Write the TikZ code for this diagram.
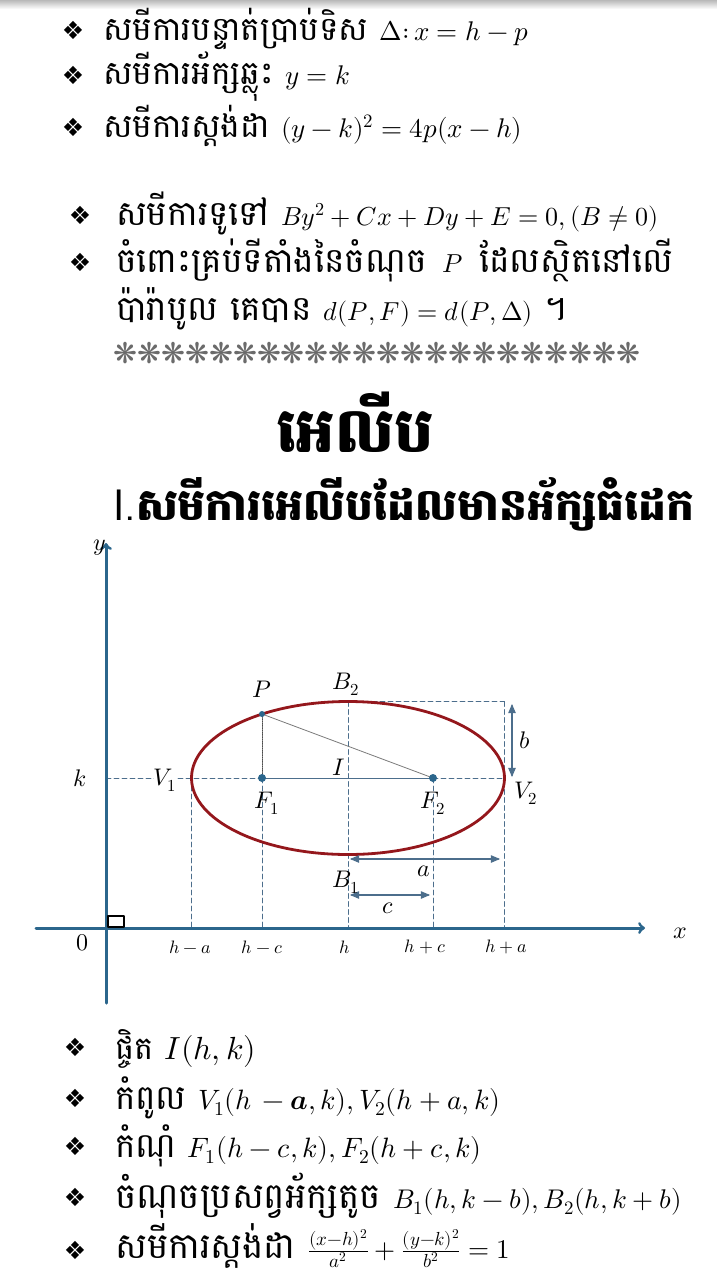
\documentclass[tikz,border=0pt]{standalone}
\usepackage{fontspec}
\usepackage{unicode-math}
\usetikzlibrary{arrows}
\newfontfamily\khmer[Script=Khmer,Scale=1.22]{Battambang}
\newfontfamily\khmerlg[Script=Khmer,Scale=1.32]{Battambang}
\newfontfamily\khmerhd[Script=Khmer]{Battambang}
\newfontfamily\dingbat{DejaVu Sans}
\definecolor{qqwwcc}{rgb}{0.17,0.40,0.55}
\definecolor{ttqqqq}{rgb}{0.58,0.09,0.11}
\definecolor{wwzzcc}{rgb}{0.30,0.43,0.55}
\definecolor{sqsqsq}{rgb}{0.48,0.48,0.48}
\definecolor{zzzzzz}{rgb}{0.42,0.42,0.42}
\tikzset{
  txt/.style={anchor=base west,inner sep=0pt,font=\fontsize{27}{32}\selectfont\khmer},
  txtlg/.style={anchor=base west,inner sep=0pt,font=\fontsize{26}{32}\selectfont\khmerlg},
  txtlo/.style={anchor=base west,inner sep=0pt,font=\fontsize{27}{32}\selectfont\khmerlg},
  bul/.style={inner sep=0pt,font=\fontsize{25}{30}\selectfont\dingbat},
  lbl/.style={inner sep=1pt,font=\fontsize{24}{28}\selectfont},
  tick/.style={inner sep=1pt,font=\fontsize{18}{22}\selectfont},
  guide/.style={wwzzcc,line width=0.9pt,dash pattern=on 5pt off 3pt},
}
\begin{document}
\begin{tikzpicture}[line cap=round,line join=round,>=triangle 45,x=1.0pt,y=-1.0pt]
	\useasboundingbox (0,0) rectangle (717,1280);
	\shade[top color=gray!55,bottom color=white] (0,0) rectangle (717,9);
	% top list
	\node[bul] (b1) at (73,30) {❖};
	\node[txt] (t1) at (103,40) {សមីការបន្ទាត់ប្រាប់ទិស $\Delta{:}\,x=h-p$};
	\node[bul] (b2) at (73,75) {❖};
	\node[txt] (t2) at (103,84) {សមីការអ័ក្សឆ្លុះ $y=k$};
	\node[bul] (b3) at (73,127) {❖};
	\node[txt] (t3) at (103,137) {សមីការស្តង់ដា $(y-k)^2=4p(x-h)$};
	\node[bul] (b4) at (80,215) {❖};
	\node[txtlg] (t4) at (116,225) {សមីការទូទៅ $By^2+Cx+Dy+E=0,(B\neq 0)$};
	\node[bul] (b5) at (80,262) {❖};
	\node[txtlg] (t5) at (116,272) {ចំពោះគ្រប់ទីតាំងនៃចំណុច\hspace{16pt}$P$\hspace{16pt}ដែលស្ថិតនៅលើ};
	\node[txtlg] (t6) at (116,320) {ប៉ារ៉ាបូល គេបាន $d(P,F)=d(P,\Delta)$ ។};
	\node[anchor=west,inner sep=0pt,text=zzzzzz,font=\fontsize{28.6}{30}\selectfont\dingbat] (stars) at (113,353) {❋❋❋❋❋❋❋❋❋❋❋❋❋❋❋❋❋❋❋❋❋❋};
	% headings
	\node[inner sep=0pt,font=\fontsize{62}{70}\selectfont\khmerhd\bfseries] (title) at (355,422) {អេលីប};
	\node[anchor=base west,inner sep=0pt,font=\fontsize{44}{50}\selectfont\khmerhd\bfseries] (sub) at (113,520) {{\mdseries\sffamily I.}សមីការអេលីបដែលមានអ័ក្សធំដេក};
	% points
	\coordinate (O) at (106,928);
	\coordinate (ytop) at (106,543);
	\coordinate (ybot) at (106,1003);
	\coordinate (xleft) at (36,928);
	\coordinate (xright) at (645,928);
	\coordinate (K) at (106,778);
	\coordinate (I) at (348,778);
	\coordinate (V1) at (191.5,778);
	\coordinate (V2) at (504.5,778);
	\coordinate (F1) at (262,778);
	\coordinate (F2) at (433,778);
	\coordinate (B2) at (348,701.5);
	\coordinate (B1) at (348,854.5);
	\coordinate (P) at (262,714);
	\coordinate (C) at (504.5,701.5);
	\coordinate (Xa) at (191.5,928);
	\coordinate (Xc) at (262,928);
	\coordinate (Xh) at (348,928);
	\coordinate (Xd) at (433,928);
	\coordinate (Xe) at (504.5,928);
	% guides
	\draw [guide] (K) -- (F1);
	\draw [guide] (F2) -- (V2);
	\draw [guide] (B2) -- (C);
	\draw [guide] (V1) -- (Xa);
	\draw [guide] (F1) -- (Xc);
	\draw [guide] (B2) -- (Xh);
	\draw [guide] (F2) -- (Xd);
	\draw [guide] (C) -- (Xe);
	\draw [wwzzcc,line width=1pt] (F1) -- (F2);
	\draw [sqsqsq,line width=0.8pt] (P) -- (F2);
	\draw [black!70,line width=0.8pt,densely dotted] (P) -- (F1);
	% axes
	\draw [qqwwcc,line width=3pt,-to] (ybot) -- (ytop);
	\draw [qqwwcc,line width=3pt,-to] (xleft) -- (xright);
	\draw [black,line width=1.6pt] (108,916) rectangle (124,927);
	% ellipse
	\draw [ttqqqq,line width=2.8pt] (I) ellipse [x radius=156.5pt,y radius=76.5pt];
	% dimensions
	\coordinate (bt) at (512,704);
	\coordinate (bb) at (512,777);
	\coordinate (al) at (350,859);
	\coordinate (ar) at (500,859);
	\coordinate (cl) at (350,895);
	\coordinate (cr) at (430,895);
	\draw [wwzzcc,line width=1.1pt,<->] (bt) -- (bb);
	\draw [wwzzcc,line width=1.1pt,<->] (al) -- (ar);
	\draw [wwzzcc,line width=1.1pt,<->] (cl) -- (cr);
	\fill [qqwwcc] (F1) circle (4pt);
	\fill [qqwwcc] (F2) circle (4pt);
	\fill [qqwwcc] (P) circle (3pt);
	% labels
	\node[lbl] (ly) at (100,548) {$y$};
	\node[lbl] (lx) at (680,933) {$x$};
	\node[lbl] (l0) at (82,943) {$0$};
	\node[lbl] (lk) at (80,778) {$k$};
	\node[lbl,fill=white,inner sep=0pt] (lV1) at (165,780) {$V_1$};
	\node[lbl] (lP) at (262,689) {$P$};
	\node[lbl] (lB2) at (346,684) {$B_2$};
	\node[lbl] (lI) at (339,767) {$I$};
	\node[lbl] (lF1) at (267,803) {$F_1$};
	\node[lbl] (lF2) at (433,803) {$F_2$};
	\node[lbl] (lV2) at (526,793) {$V_2$};
	\node[lbl] (lb) at (525,740) {$b$};
	\node[lbl] (la) at (424,871) {$a$};
	\node[lbl] (lB1) at (346,882) {$B_1$};
	\node[lbl] (lc) at (388,908) {$c$};
	\node[tick] (ha) at (190,947) {$h-a$};
	\node[tick] (hc) at (262,947) {$h-c$};
	\node[tick] (hh) at (345,947) {$h$};
	\node[tick] (hd) at (425,947) {$h+c$};
	\node[tick] (he) at (506,947) {$h+a$};
	% bottom list
	\node[bul] (b6) at (75,1047) {❖};
	\node[txtlo,font=\fontsize{32}{36}\selectfont\khmerhd] (t7) at (115,1059) {ផ្ចិត $I(h,k)$};
	\node[bul] (b7) at (75,1098) {❖};
	\node[txtlo,font=\fontsize{28}{32}\selectfont\khmer] (t8) at (115,1109) {កំពូល $V_1(h\,-\symbfit{a},k),V_2(h+a,k)$};
	\node[bul] (b8) at (75,1146) {❖};
	\node[txtlo,font=\fontsize{28}{32}\selectfont\khmer] (t9) at (115,1157) {កំណុំ $F_1(h-c,k),F_2(h+c,k)$};
	\node[bul] (b9) at (75,1197) {❖};
	\node[txtlo] (t10) at (115,1208) {ចំណុចប្រសព្វអ័ក្សតូច $B_1(h,k-b),B_2(h,k+b)$};
	\node[bul] (b10) at (75,1250) {❖};
	\node[txtlo] (t11) at (115,1258) {សមីការស្តង់ដា $\frac{(x-h)^2}{a^2}+\frac{(y-k)^2}{b^2}=1$};
\end{tikzpicture}
\end{document}
